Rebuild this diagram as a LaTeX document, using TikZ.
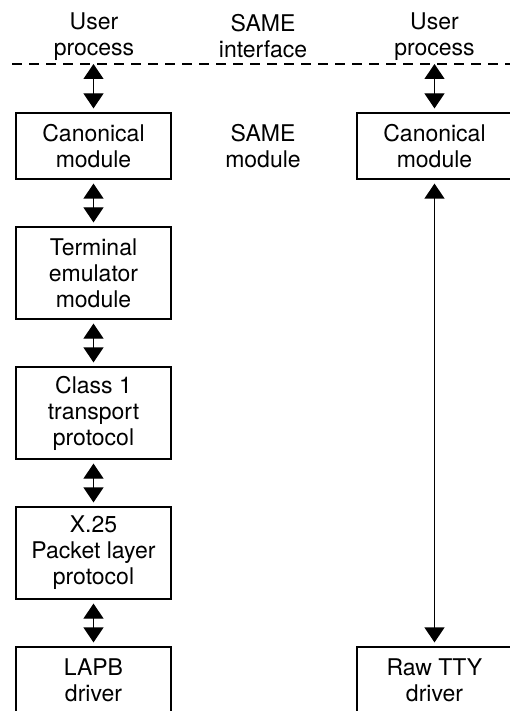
\documentclass[tikz,border=0pt]{standalone}
\usepackage{fontspec}
\setmainfont{TeX Gyre Heros}
\usetikzlibrary{arrows.meta}
\tikzset{
    modbox/.style = {rectangle, draw=black, line width=1.2pt, minimum width=155pt, align=center, inner sep=0pt},
    modboxa/.style = {modbox, minimum height=66pt},
    modboxb/.style = {modbox, minimum height=92pt},
    plainlab/.style = {align=center, inner sep=0pt},
    edgeb/.style = {{Triangle[width=20pt,length=15pt]}-{Triangle[width=20pt,length=15pt]}, line width=1.2pt, shorten <=4pt, shorten >=4pt},
    edged/.style = {line width=1.1pt, dash pattern=on 10pt off 7pt},
    every node/.style={font=\fontsize{23}{26}\selectfont}
}

\begin{document}
\begin{tikzpicture}[x=1pt,y=-1pt]
\useasboundingbox (0,0) rectangle (510,711);
\clip (0,0) rectangle (510,711);
%
\node[plainlab] at (94, 36.5) (luser) {User\\process};
\node[plainlab] at (263, 36.5) (sameif) {SAME\\interface};
\node[plainlab] at (434.5, 36.5) (ruser) {User\\process};
\coordinate (dl) at (12, 64);
\coordinate (dr) at (510, 64);
\coordinate (ltop) at (93.5, 64);
\coordinate (rtop) at (434.5, 64);
\draw[edged] (dl) -- (dr);
%
\node[modboxa] at (93.5, 146) (lcan) {Canonical\\module};
\node[modboxb] at (93.5, 273) (lterm) {Terminal\\emulator\\module};
\node[modboxb] at (93.5, 413) (lclass) {Class 1\\transport\\protocol};
\node[modboxb] at (93.5, 553) (lx25) {X.25\\Packet layer\\protocol};
\node[modboxa] at (93.5, 680) (llapb) {LAPB\\driver};
%
\node[plainlab] at (263, 146) (samemod) {SAME\\module};
%
\node[modboxa] at (434.5, 146) (rcan) {Canonical\\module};
\node[modboxa] at (434.5, 680) (rraw) {Raw TTY\\driver};
%
\draw[edgeb,shorten <=0pt] (ltop) -- (lcan);
\draw[edgeb] (lcan) -- (lterm);
\draw[edgeb] (lterm) -- (lclass);
\draw[edgeb] (lclass) -- (lx25);
\draw[edgeb] (lx25) -- (llapb);
\draw[edgeb,shorten <=0pt] (rtop) -- (rcan);
\draw[edgeb] (rcan) -- (rraw);

\end{tikzpicture}
\end{document}
